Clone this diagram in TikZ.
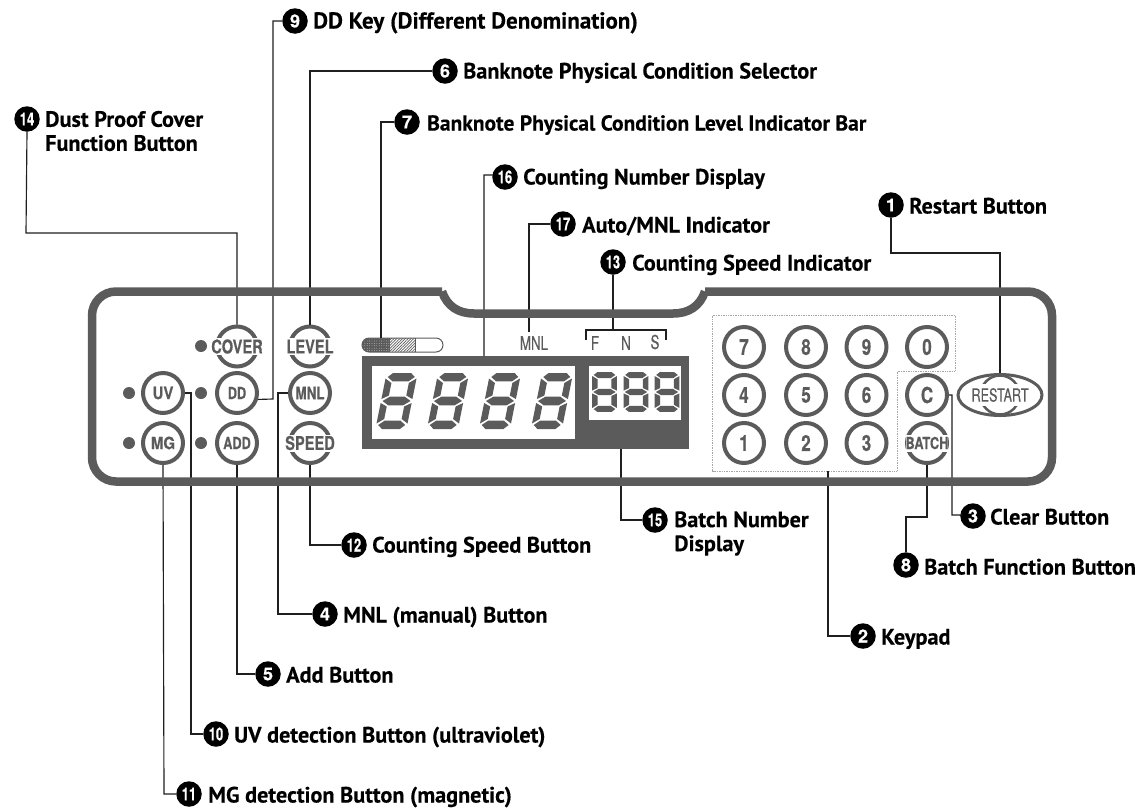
\documentclass[tikz,border=0pt]{standalone}
\usepackage{fontspec}
\setmainfont{PT Sans}[BoldFeatures={FakeBold=0.25}]
\newfontfamily\panelb[FakeStretch=0.77,FakeBold=0.5]{TeX Gyre Heros Bold}
\newfontfamily\panelw[FakeStretch=0.88,FakeBold=0.5]{TeX Gyre Heros Bold}
\newfontfamily\panelr[FakeStretch=0.7,FakeBold=0.25]{TeX Gyre Heros}
\newfontfamily\badgef[FakeBold=0.5]{TeX Gyre Heros Bold}
\newfontfamily\badgeff[FakeStretch=0.72,FakeBold=0.5]{TeX Gyre Heros Bold}
\usetikzlibrary{patterns.meta,shapes.geometric}
\definecolor{pg}{HTML}{5B5B5B}
\tikzset{
 x=1pt,y=-1pt,
 conn/.style={draw=black!88,line width=1.15pt,line join=miter},
 badge/.style={circle,fill=black,text=white,minimum size=25.5,inner sep=0,font=\badgef\fontsize{18}{18}\selectfont},
 badgew/.style={badge,font=\badgeff\fontsize{18}{18}\selectfont},
 lab/.style={anchor=west,inner sep=0,text height=20,text depth=5,font=\fontsize{22.2}{24}\selectfont\bfseries},
 labm/.style={anchor=west,inner sep=0,align=left,font=\fontsize{22.2}{24}\selectfont\bfseries},
 btn/.style={circle,draw=pg,line width=4pt,minimum size=40,inner sep=0,fill=white,text=pg,font=\panelb\fontsize{16.5}{16.5}\selectfont},
 key/.style={btn,font=\panelb\fontsize{22}{22}\selectfont},
 captxt/.style={fill=white,inner sep=0,text=pg,minimum height=17,font=\panelb\fontsize{19}{19}\selectfont},
 led/.style={circle,fill=pg,minimum size=12,inner sep=0},
 thintxt/.style={inner sep=0,text=pg,font=\panelr\fontsize{19}{19}\selectfont},
}
\newcommand{\seg}{%
 \fill[pg] (-9,-28)--(9,-28)--(13.5,-24)--(8,-19.7)--(-8,-19.7)--(-13.5,-24)--cycle;
 \fill[pg] (-9,28)--(9,28)--(13.5,24)--(8,19.7)--(-8,19.7)--(-13.5,24)--cycle;
 \fill[pg] (-15.5,-22.5)--(-8.7,-18)--(-8.7,-5.5)--(-15.5,-2)--cycle;
 \fill[pg] (15.5,-22.5)--(8.7,-18)--(8.7,-5.5)--(15.5,-2)--cycle;
 \fill[pg] (-15.5,22.5)--(-8.7,18)--(-8.7,5.5)--(-15.5,2)--cycle;
 \fill[pg] (15.5,22.5)--(8.7,18)--(8.7,5.5)--(15.5,2)--cycle;
 \fill[pg] (-14,0)--(-7.5,-4.3)--(7.5,-4.3)--(14,0)--(7.5,4.3)--(-7.5,4.3)--cycle;
}
\begin{document}
\begin{tikzpicture}
\useasboundingbox (0,0) rectangle (1142,809);
% badges and labels
\node[badge] (b1) at (891,205) {1}; \node[lab] (t1) at (909,206) {Restart Button};
\node[badge] (b2) at (863,636) {2}; \node[lab] (t2) at (881,637) {Keypad};
\node[badge] (b3) at (973,516) {3}; \node[lab] (t3) at (990,517) {Clear Button};
\node[badge] (b4) at (325,614) {4}; \node[lab] (t4) at (343,615) {MNL (manual) Button};
\node[badge] (b5) at (268,674) {5}; \node[lab] (t5) at (286,675) {Add Button};
\node[badge] (b6) at (445,71) {6}; \node[lab] (t6) at (463,71) {Banknote Physical Condition Selector};
\node[badge] (b7) at (407,122) {7}; \node[lab,font=\fontsize{21.5}{24}\selectfont\bfseries] (t7) at (427,123) {Banknote Physical Condition Level Indicator Bar};
\node[badge] (b8) at (906,565) {8}; \node[lab] (t8) at (924,567) {Batch Function Button};
\node[badge] (b9) at (295,21) {9}; \node[lab,font=\fontsize{23}{24}\selectfont\bfseries] (t9) at (313,21) {DD Key (Different Denomination)};
\node[badgew] (b10) at (216,734) {10}; \node[lab] (t10) at (234,735) {UV detection Button (ultraviolet)};
\node[badgew] (b11) at (189,794) {11}; \node[lab] (t11) at (208,795) {MG detection Button (magnetic)};
\node[badgew] (b12) at (354,545) {12}; \node[lab] (t12) at (372,545) {Counting Speed Button};
\node[badgew] (b13) at (613,262) {13}; \node[lab] (t13) at (632,263) {Counting Speed Indicator};
\node[badgew] (b14) at (27,119) {14}; \node[labm] (t14) at (45,131) {Dust Proof Cover\\Function Button};
\node[badgew] (b15) at (655,520) {15}; \node[labm] (t15) at (674,533.5) {Batch Number\\Display};
\node[badgew] (b16) at (505,177) {16}; \node[lab] (t16) at (523,177) {Counting Number Display};
\node[badgew] (b17) at (563,224) {17}; \node[lab] (t17) at (582,225) {Auto/MNL Indicator};
% display and items
\node[draw=none,fill=pg,minimum width=327,minimum height=93,inner sep=0,anchor=north west] (disp) at (362,356) {};
\fill[white] (371.5,366) rectangle (575,438.5);
\fill[white] (588.5,366) rectangle (681,420);
\foreach \cx in {396.5,448,500,552}{\begin{scope}[shift={(\cx,401)},xslant=0.2]\seg\end{scope}}
\foreach \cx in {604.5,636,667}{\begin{scope}[shift={(\cx,392)},xscale=0.8,yscale=0.71]\seg\end{scope}}
% bar
\begin{scope}
\clip[rounded corners=7] (362,338) rectangle (443,352);
\fill[pg] (362,338) rectangle (390,352);
\fill[pattern={Dots[radius=.4pt,distance=2.4pt]},pattern color=white!75!pg] (362,338) rectangle (390,352);
\fill[pattern={Lines[angle=45,distance=2pt,line width=.7pt]},pattern color=pg] (390,338) rectangle (415,352);
\draw[pg,line width=.8pt] (415,338)--(415,352);
\end{scope}
\draw[pg,line width=1pt,rounded corners=7] (362,338) rectangle (443,352);
% indicators
\node[thintxt] (mnl) at (534,343) {MNL};
\node[thintxt] (f) at (595,343) {F};
\node[thintxt] (n) at (626,343) {N};
\node[thintxt] (s) at (655,342) {S};
\coordinate (brl) at (586,340); \coordinate (brr) at (666,340); \coordinate (brt) at (613,330);
\draw[conn] (brl) |- (brr |- brt) -- (brr);
% buttons
\node[btn,font=\panelw\fontsize{17}{17}\selectfont] (uv) at (163,393) {UV};
\node[btn,font=\panelw\fontsize{17}{17}\selectfont] (mg) at (163,443) {MG};
\node[btn] (dd) at (237,393) {DD};
\node[btn] (add) at (237,443) {ADD};
\node[btn,font=\panelb\fontsize{17.5}{17.5}\selectfont] (mnlb) at (310,393) {MNL};
\node[btn] (cover) at (237,346.5) {};
\node[captxt] at (cover) {COVER};
\node[btn] (level) at (310,346.5) {};
\node[captxt] at (level) {LEVEL};
\node[btn] (speed) at (310,443) {};
\node[captxt] at (speed) {SPEED};
\node[btn] (batch) at (927,443) {};
\node[captxt,font=\panelb\fontsize{16.5}{16.5}\selectfont] at (batch) {BATCH};
\foreach \nm/\lx/\ly in {l1/129/393,l2/129/443,l3/201/393,l4/201/443,l5/201/346}
  \node[led] (\nm) at (\lx,\ly) {};
\node[key] (k7) at (744,347) {7};
\node[key] (k8) at (806,347) {8};
\node[key] (k9) at (866.5,347) {9};
\node[key] (k0) at (927,347) {0};
\node[key] (k4) at (744,395) {4};
\node[key] (k5) at (806,395) {5};
\node[key] (k6) at (866.5,395) {6};
\node[key] (kc) at (927,395) {C};
\node[key] (k1) at (744,443) {1};
\node[key] (k2) at (806,443) {2};
\node[key] (k3) at (866.5,443) {3};
\draw[gray!70,line width=.7pt,densely dotted] (712.5,315)--(955,315)--(955,371)--(897,371)--(897,471)--(712.5,471)--cycle;
\coordinate (kpb) at (828,471);
% restart
\node[ellipse,draw=pg,line width=3pt,minimum width=84,minimum height=41,inner sep=0,fill=white] (rst) at (1000,395) {};
\begin{scope}
\clip (1000,395) circle (21);
\draw[pg,line width=2.5pt] (1000,395) circle (19.5);
\end{scope}
\fill[white] (968,384) rectangle (1032,406);
\node[thintxt,font=\panelr\fontsize{18}{18}\selectfont] at (rst) {RESTART};
% connectors
\coordinate (j9) at (273,399);
\coordinate (j9t) at (273,21);
\coordinate (j6) at (310,71);
\coordinate (j7) at (381,122);
\coordinate (j14a) at (26,233); \coordinate (j14b) at (237,233);
\coordinate (j16) at (484,175); \coordinate (j16e) at (493,175);
\coordinate (j17) at (529,224);
\coordinate (j1a) at (891,253); \coordinate (j1b) at (1000,253);
\coordinate (j3a) at (952,395); \coordinate (j3) at (952,515); \coordinate (j3e) at (961,515);
\coordinate (j8a) at (906,517); \coordinate (j8b) at (927,517);
\coordinate (j2) at (828,636);
\coordinate (j15) at (621,520);
\coordinate (j12) at (310,545);
\coordinate (j4a) at (278,393); \coordinate (j4) at (278,614);
\coordinate (j5) at (237,674);
\coordinate (j10a) at (191,393); \coordinate (j10) at (191,734);
\coordinate (j11) at (164,794);
\coordinate (barTop) at (381,338);
\coordinate (mnlTop) at (529,332);
\coordinate (dispT) at (484,356);
\coordinate (dispB) at (621,449);
\draw[conn] (b1.south) -- (j1a) -- (j1b) -- (rst.north);
\draw[conn] (kpb) -- (j2) -- (b2.west);
\draw[conn] (kc.east) -- (j3a) -- (j3) -- (j3e) -- (b3.west);
\draw[conn] (mnlb.west) -- (j4a) -- (j4) -- (b4.west);
\draw[conn] (add.south) -- (j5) -- (b5.west);
\draw[conn] (level.north) -- (j6) -- (b6.west);
\draw[conn] (barTop) -- (j7) -- (b7.west);
\draw[conn] (batch.south) -- (j8b) -- (j8a) -- (b8.north);
\draw[conn] (dd.-17) -- (j9) -- (j9t) -- (b9.west);
\draw[conn] (uv.east) -- (j10a) -- (j10) -- (b10.west);
\draw[conn] (mg.south) -- (j11) -- (b11.west);
\draw[conn] (speed.south) -- (j12) -- (b12.west);
\draw[conn] (brt) -- (b13.south);
\draw[conn] (cover.north) -- (j14b) -- (j14a) -- (b14.south);
\draw[conn] (dispB) -- (j15) -- (b15.west);
\draw[conn] (dispT) -- (j16) -- (j16e) -- (b16);
\draw[conn] (mnlTop) -- (j17) -- (b17.west);
% panel on top of connectors
\draw[pg,line width=8.5pt,rounded corners=24] (442,291.5) -- (92,291.5) -- (92,481.5) -- (1052,481.5) -- (1052,291.5) -- (705,291.5);
\draw[pg,line width=8.5pt] (442,291.5) .. controls (447,306) and (458,313.5) .. (474,313.5) -- (673,313.5) .. controls (689,313.5) and (700,306) .. (705,291.5);
\end{tikzpicture}
\end{document}
